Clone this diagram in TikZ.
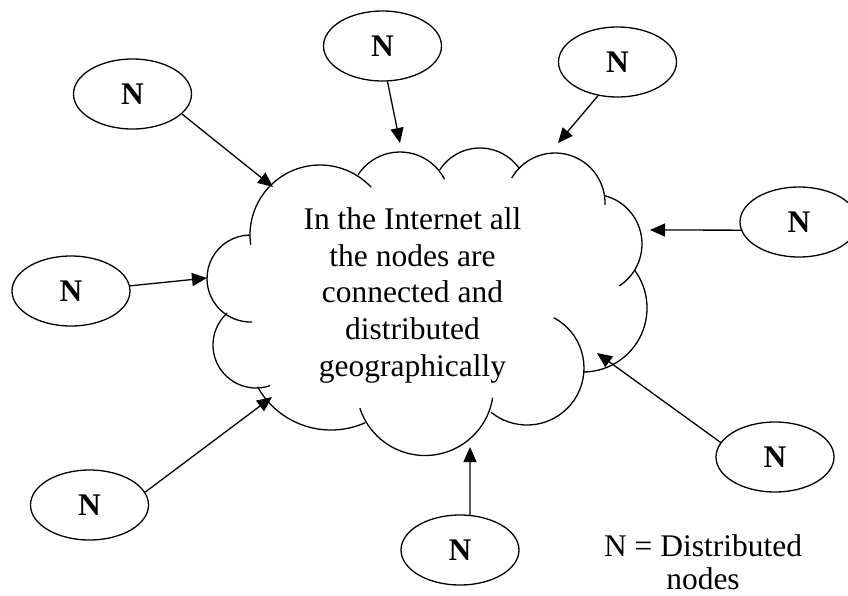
\documentclass[tikz,border=0pt]{standalone}
\usepackage{fontspec}
\setmainfont{Liberation Serif}
\usetikzlibrary{arrows.meta,shapes.geometric}
\begin{document}
\begin{tikzpicture}[x=1pt,y=-1pt,
  line width=1.3pt,
  nnode/.style={draw, ellipse, inner sep=0pt, minimum width=118pt, minimum height=70pt,
    font=\fontsize{31.5}{36}\selectfont\bfseries},
  link/.style={-{Triangle[length=15pt,width=13pt]}},
  lobe/.style={line width=1.3pt},
  txt/.style={align=center, inner sep=0pt, anchor=north}]
\useasboundingbox (0,0) rectangle (848,595);

% cloud lobes (angles in picture coordinates, y downward)
\draw[lobe] ([shift={(172:70)}]320,235) arc[start angle=172,end angle=317,radius=70];
\draw[lobe] ([shift={(213:50)}]400,202) arc[start angle=213,end angle=333,radius=50];
\draw[lobe] ([shift={(213:48)}]480,196) arc[start angle=213,end angle=324,radius=48];
\draw[lobe] ([shift={(210:50)}]555,203) arc[start angle=210,end angle=362,radius=50];
\draw[lobe] ([shift={(285:50)}]592,244) arc[start angle=285,end angle=417,radius=50];
\draw[lobe] ([shift={(324:64)}]583,308) arc[start angle=324,end angle=450,radius=64];
\draw[lobe] ([shift={(-62:57)}]527,368) arc[start angle=-62,end angle=129,radius=57];
\draw[lobe] ([shift={(9:68.5)}]425,387) arc[start angle=9,end angle=162,radius=68.5];
\draw[lobe] ([shift={(66:84)}]331,346) arc[start angle=66,end angle=151,radius=84];
\draw[lobe] ([shift={(71:43)}]256,345) arc[start angle=71,end angle=228,radius=43];
\draw[lobe] ([shift={(88:43.5)}]250.5,278.5) arc[start angle=88,end angle=269,radius=43.5];

\node[txt, font=\fontsize{31.5}{36.7}\selectfont] (cloudtext) at (412.5,207)
  {In the Internet all\\the nodes are\\connected and\\distributed\\geographically};

% distributed nodes
\node[nnode] (ntl) at (132.5,94) {N};
\node[nnode] (ntm) at (382.5,46) {N};
\node[nnode] (ntr) at (617.5,62) {N};
\node[nnode] (nr)  at (799,222) {N};
\node[nnode] (nl)  at (71,291) {N};
\node[nnode] (nbl) at (89.5,505) {N};
\node[nnode] (nbm) at (460,550) {N};
\node[nnode] (nbr) at (775,457) {N};

% arrow tips on the cloud
\coordinate (tA) at (273,187);
\coordinate (tB) at (400,143);
\coordinate (tC) at (558,143);
\coordinate (tD) at (650,230);
\coordinate (tE) at (207,278);
\coordinate (tF) at (272,397);
\coordinate (tG) at (470,447);
\coordinate (tH) at (597,353);

\draw[link] (ntl.-22) -- (tA);
\draw[link] (ntm.-82) -- (tB);
\draw[link] (ntr.-120) -- (tC);
\draw[link] (nr.188) -- (tD);
\draw[link] (nl.5) -- (tE);
\draw[link] (nbl.13) -- (tF);
\draw[link] (nbm.74) -- (tG);
\draw[link] (nbr.165) -- (tH);

\node[txt, font=\fontsize{31.5}{33}\selectfont] (legend) at (703,534) {N = Distributed\\nodes};
\end{tikzpicture}
\end{document}
